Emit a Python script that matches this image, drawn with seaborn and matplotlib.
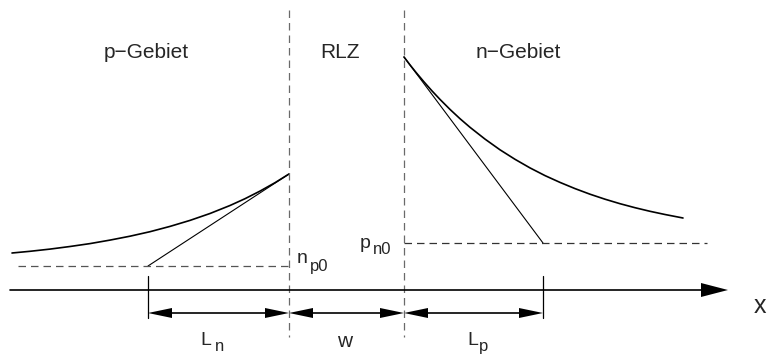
import matplotlib
matplotlib.use("Agg")
import matplotlib.pyplot as plt
import seaborn as sns
import pandas as pd

sns.set_style("white")
plt.rcParams["font.family"] = ["Liberation Sans", "DejaVu Sans"]

# ---- data (pixel-space diagram, y grows downward) ----
p_curve_x = [12, 30, 50, 70, 90, 110, 130, 150, 170, 190, 210, 230, 245, 260, 275, 289]
p_curve_y = [253, 251.3, 249.1, 246.5, 243.6, 240.1, 236.2, 231.7, 226.4, 220.4,
             213.5, 205.5, 198.7, 191.1, 182.7, 174]
n_curve_x = [404, 410, 416, 424, 432, 440, 450, 460, 470, 485, 500, 515, 530, 545,
             560, 575, 590, 605, 620, 635, 650, 665, 683]
n_curve_y = [57, 64.9, 72.4, 81.9, 90.9, 99.4, 109.4, 118.7, 127.3, 139.1, 149.8,
             159.3, 167.9, 175.6, 182.4, 188.6, 194.2, 199.2, 203.7, 207.7, 211.3,
             214.5, 218]
p_tangent_x = [148, 289]
p_tangent_y = [266, 174]
n_tangent_x = [404, 543]
n_tangent_y = [57, 243]

boundary_x = [289, 404]          # region borders
boundary_y = [10, 337]
np0_level = 266
np0_span = [18, 289]
pn0_level = 243
pn0_span = [404, 707]
axis_y = 290
axis_span = [10, 728]
tick_x = [148, 543]
tick_span = [276, 318]
dim_y = 313
dim_segments = [(148, 289), (289, 404), (404, 543)]

region_labels = ["p−Gebiet", "RLZ", "n−Gebiet"]
region_label_x = [146.5, 340, 518]
region_label_base = 58

W, H = 768, 354
fig = plt.figure(figsize=(W / 100, H / 100), dpi=100)
ax = fig.add_axes([0, 0, 1, 1])
ax.set_xlim(0, W)
ax.set_ylim(H, 0)
ax.axis("off")

# curves
df_p = pd.DataFrame({"x": p_curve_x, "y": p_curve_y})
df_n = pd.DataFrame({"x": n_curve_x, "y": n_curve_y})
sns.lineplot(data=df_p, x="x", y="y", ax=ax, color="black", lw=1.2, sort=False)
sns.lineplot(data=df_n, x="x", y="y", ax=ax, color="black", lw=1.2, sort=False)
df_pt = pd.DataFrame({"x": p_tangent_x, "y": p_tangent_y})
df_nt = pd.DataFrame({"x": n_tangent_x, "y": n_tangent_y})
sns.lineplot(data=df_pt, x="x", y="y", ax=ax, color="black", lw=0.8, sort=False)
sns.lineplot(data=df_nt, x="x", y="y", ax=ax, color="black", lw=0.8, sort=False)

# region borders
for bx in boundary_x:
    ax.plot([bx, bx], boundary_y, color="#6a6a6a", lw=0.9, ls=(0, (6, 4)))

# equilibrium levels
ax.plot(np0_span, [np0_level] * 2, color="#555555", lw=0.9, ls=(0, (6, 4)))
ax.plot(pn0_span, [pn0_level] * 2, color="#333333", lw=0.9, ls=(0, (6, 4)))

# main axis with arrow head
head_len, head_half = 27, 7
ax.plot([axis_span[0], axis_span[1] - head_len], [axis_y] * 2, color="black", lw=1.2)
ax.fill([axis_span[1], axis_span[1] - head_len, axis_span[1] - head_len],
        [axis_y, axis_y - head_half, axis_y + head_half], color="black", lw=0)

# ticks
for tx in tick_x:
    ax.plot([tx, tx], tick_span, color="black", lw=0.9)

# dimension arrows
dl, dh = 24, 5
for a, b in dim_segments:
    ax.plot([a + dl, b - dl], [dim_y] * 2, color="black", lw=1.2)
    ax.fill([a, a + dl, a + dl], [dim_y, dim_y - dh, dim_y + dh], color="black", lw=0)
    ax.fill([b, b - dl, b - dl], [dim_y, dim_y - dh, dim_y + dh], color="black", lw=0)

# region labels
for lab, lx in zip(region_labels, region_label_x):
    ax.text(lx, region_label_base, lab, ha="center", va="baseline", fontsize=15)

# symbol labels
ax.text(297, 263, "n", ha="left", va="baseline", fontsize=14)
ax.text(310, 271, "p0", ha="left", va="baseline", fontsize=12)
ax.text(360, 248, "p", ha="left", va="baseline", fontsize=14)
ax.text(373, 254, "n0", ha="left", va="baseline", fontsize=12)
ax.text(200, 345, "L", ha="left", va="baseline", fontsize=14)
ax.text(215, 351, "n", ha="left", va="baseline", fontsize=12)
ax.text(344.5, 347, "w", ha="center", va="baseline", fontsize=15)
ax.text(467, 345, "L", ha="left", va="baseline", fontsize=14)
ax.text(479, 351, "p", ha="left", va="baseline", fontsize=12)
ax.text(759.5, 313, "x", ha="center", va="baseline", fontsize=18)

fig.savefig("out.png", dpi=100)
